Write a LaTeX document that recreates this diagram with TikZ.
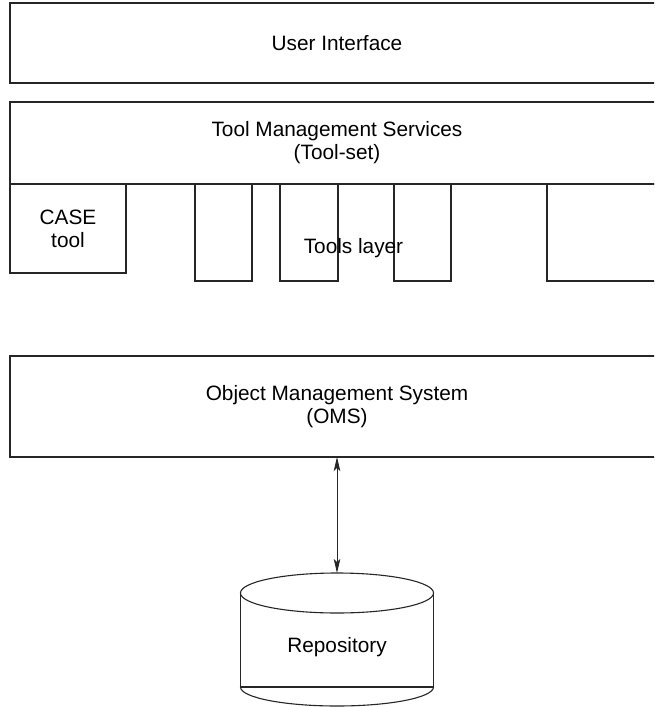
\documentclass[tikz,border=0pt]{standalone}
\usepackage{fontspec}
\setmainfont{Liberation Sans}
\usetikzlibrary{arrows.meta}
\begin{document}
\begin{tikzpicture}[x=1pt,y=-1pt,
  line/.style={draw=black!85,line width=1.1pt},
  layer/.style={line,rectangle,inner sep=0pt,outer sep=0pt,align=center,
     font=\fontsize{20.8}{23}\selectfont},
  txt/.style={inner sep=0pt,align=center,font=\fontsize{20.8}{23}\selectfont},
  dbl/.style={line,line width=0.9pt,{Stealth[length=14pt,width=6.5pt,inset=3pt]}-{Stealth[length=14pt,width=6.5pt,inset=3pt]}}
]
\useasboundingbox[clip] (0,0) rectangle (654,707);
\fill[white] (0,0) rectangle (654,707);
% layers
\node[layer,minimum width=654pt,minimum height=80pt] (ui) at (337,43) {User Interface};
\node[layer,minimum width=654pt,minimum height=82pt] (tms) at (337,143) {Tool Management Services\\(Tool-set)};
% tools
\node[layer,minimum width=116pt,minimum height=89pt] (case) at (68,228.5) {CASE\\tool};
\node[layer,minimum width=57pt,minimum height=97pt] (t2) at (223.5,232.5) {};
\node[layer,minimum width=58pt,minimum height=97pt] (t3) at (309,232.5) {};
\node[layer,minimum width=57pt,minimum height=97pt] (t4) at (422.5,232.5) {};
\node[layer,minimum width=117pt,minimum height=97pt] (t5) at (605.5,232.5) {};
\node[txt,anchor=base] (tl) at (353.5,253) {Tools layer};
% OMS
\node[layer,minimum width=654pt,minimum height=101pt] (oms) at (337,406.5) {Object Management System\\(OMS)};
% repository cylinder
\coordinate (dbtop) at (337,573);
\draw[line] (240.5,593) arc[start angle=180,end angle=-180,x radius=96.5pt,y radius=20pt];
\draw[line] (240.5,593) -- (240.5,687) -- (433.5,687) -- (433.5,593);
\draw[line] (240.5,687) arc[start angle=180,end angle=360,x radius=96.5pt,y radius=19pt];
\node[txt] (repo) at (337,647) {Repository};
% connector
\draw[dbl] (oms.south -| dbtop) -- (dbtop);
\end{tikzpicture}
\end{document}
